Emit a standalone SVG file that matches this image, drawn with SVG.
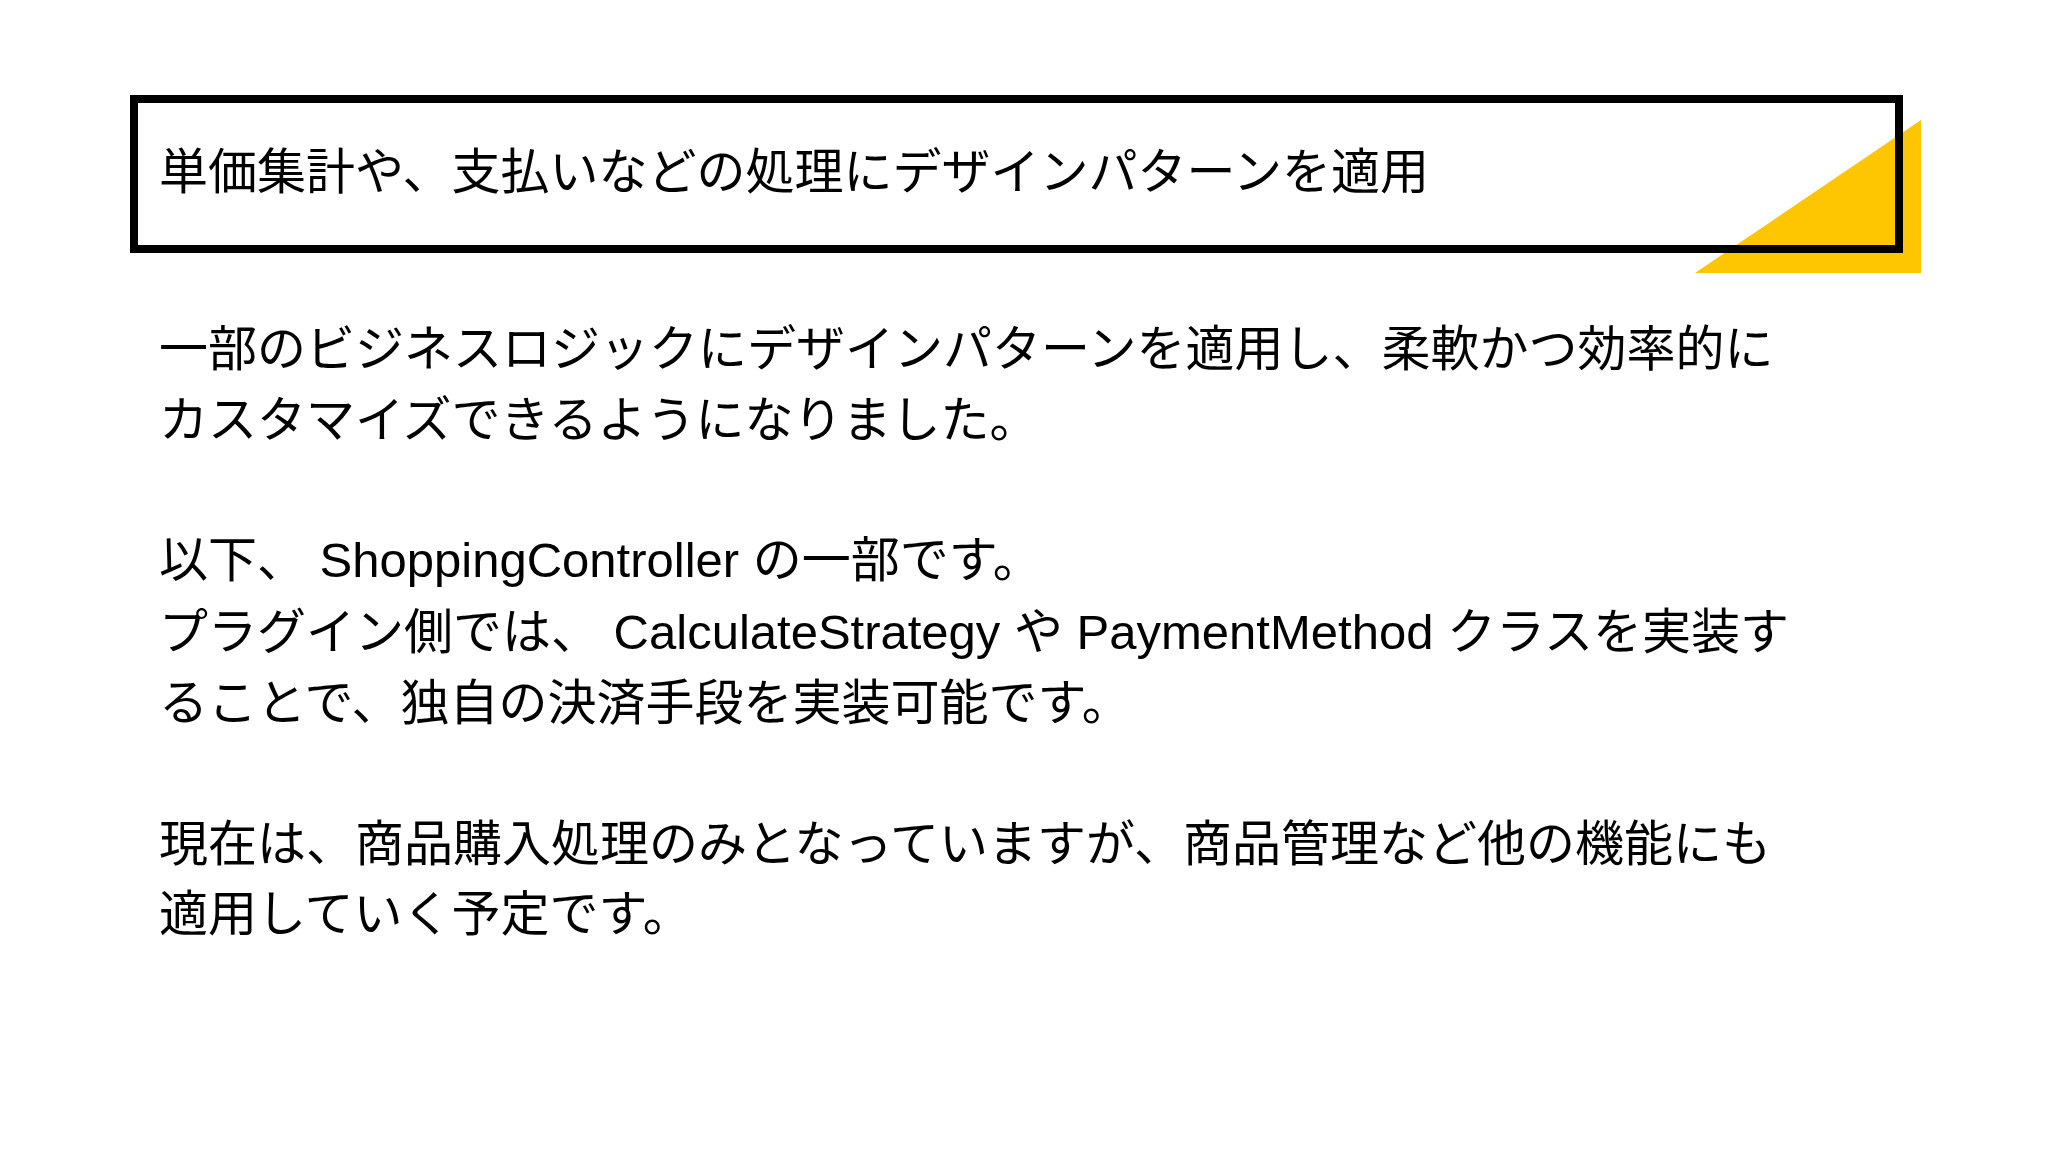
<svg xmlns="http://www.w3.org/2000/svg" width="2048" height="1152" viewBox="0 0 2048 1152">
<style>
text{font-family:"Liberation Sans","Noto Sans CJK JP",sans-serif;font-size:49px;fill:#000}
</style>
<rect width="2048" height="1152" fill="#fff"/>
<g id="title">
<polygon points="1695,273 1921,120 1921,273" fill="#fec600"/>
<rect x="134" y="99" width="1765" height="150" fill="none" stroke="#000" stroke-width="8"/>
<text x="159" y="189">単価集計や、支払いなどの処理にデザインパターンを適用</text>
</g>
<g id="body">
<text x="159" y="366">一部のビジネスロジックにデザインパターンを適用し、柔軟かつ効率的に</text>
<text x="159" y="437">カスタマイズできるようになりました。</text>
<text x="159" y="577">以下、 ShoppingController の一部です。</text>
<text x="159" y="649">プラグイン側では、 CalculateStrategy や PaymentMethod クラスを実装す</text>
<text x="159" y="720">ることで、独自の決済手段を実装可能です。</text>
<text x="159" y="861">現在は、商品購入処理のみとなっていますが、商品管理など他の機能にも</text>
<text x="159" y="931">適用していく予定です。</text>
</g>
</svg>
